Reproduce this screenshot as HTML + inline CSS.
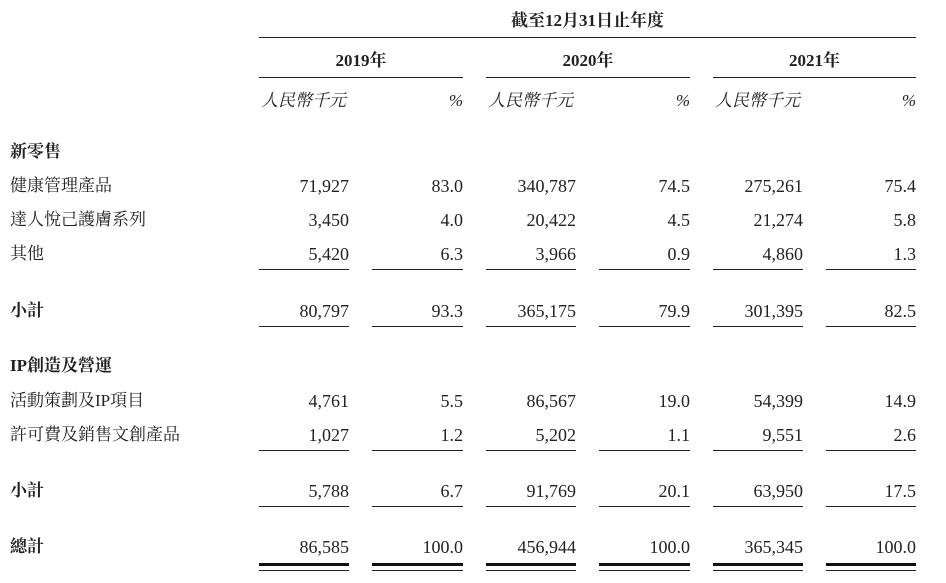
<!DOCTYPE html>
<html><head><meta charset="utf-8"><style>
body{margin:0;width:946px;height:583px;background:#fff;position:relative;overflow:hidden;color:#222;font-family:"Liberation Serif","Noto Serif CJK SC",serif;}
.t{position:absolute;height:24px;line-height:24px;font-size:18px;white-space:nowrap;}
.l{left:10px;font-size:17px;}
.b{font-weight:bold;}
.r{text-align:right;}
.i{font-style:italic;font-size:17px;}
.ln{position:absolute;height:1.3px;background:#222;}
.dt{position:absolute;height:3px;background:#111;}
.dn{position:absolute;height:1px;background:#222;}
</style></head><body>
<div class="t b" style="left:259px;width:657px;text-align:center;top:9px;font-size:17px">截至12月31日止年度</div>
<div class="ln" style="left:259px;width:657px;top:37px"></div>
<div class="t b" style="left:259px;width:204px;text-align:center;top:49px;font-size:17px">2019年</div>
<div class="t b" style="left:486px;width:204px;text-align:center;top:49px;font-size:17px">2020年</div>
<div class="t b" style="left:713px;width:203px;text-align:center;top:49px;font-size:17px">2021年</div>
<div class="ln" style="left:259px;width:204px;top:77px"></div>
<div class="ln" style="left:486px;width:204px;top:77px"></div>
<div class="ln" style="left:713px;width:203px;top:77px"></div>
<div class="t i" style="left:261px;top:89px">人民幣千元</div>
<div class="t i r" style="left:400px;width:63px;top:89px">%</div>
<div class="t i" style="left:488px;top:89px">人民幣千元</div>
<div class="t i r" style="left:627px;width:63px;top:89px">%</div>
<div class="t i" style="left:715px;top:89px">人民幣千元</div>
<div class="t i r" style="left:853px;width:63px;top:89px">%</div>

<div class="t l b" style="top:140px">新零售</div>
<div class="t l" style="top:174px">健康管理產品</div>
<div class="t l" style="top:208px">達人悅己護膚系列</div>
<div class="t l" style="top:242px">其他</div>
<div class="t l b" style="top:299px">小計</div>
<div class="t l b" style="top:354px">IP創造及營運</div>
<div class="t l" style="top:389px">活動策劃及IP項目</div>
<div class="t l" style="top:423px">許可費及銷售文創產品</div>
<div class="t l b" style="top:479px">小計</div>
<div class="t l b" style="top:535px">總計</div>

<div id="nums"></div>
<script>
var rights=[349,463,576,690,803,916];
var rows=[
[174,["71,927","83.0","340,787","74.5","275,261","75.4"]],
[208,["3,450","4.0","20,422","4.5","21,274","5.8"]],
[242,["5,420","6.3","3,966","0.9","4,860","1.3"]],
[299,["80,797","93.3","365,175","79.9","301,395","82.5"]],
[389,["4,761","5.5","86,567","19.0","54,399","14.9"]],
[423,["1,027","1.2","5,202","1.1","9,551","2.6"]],
[479,["5,788","6.7","91,769","20.1","63,950","17.5"]],
[535,["86,585","100.0","456,944","100.0","365,345","100.0"]]];
var h="";
rows.forEach(function(r){r[1].forEach(function(v,i){h+='<div class="t r" style="left:'+(rights[i]-100)+'px;width:100px;top:'+r[0]+'px">'+v+'</div>';});});
var lefts=[259,372,486,599,713,826];
[269,326,450,506].forEach(function(y){lefts.forEach(function(x,i){h+='<div class="ln" style="left:'+x+'px;width:'+(rights[i]-x)+'px;top:'+y+'px"></div>';});});
lefts.forEach(function(x,i){h+='<div class="dt" style="left:'+x+'px;width:'+(rights[i]-x)+'px;top:563px"></div><div class="dn" style="left:'+x+'px;width:'+(rights[i]-x)+'px;top:570px"></div>';});
document.getElementById("nums").innerHTML=h;
</script>
</body></html>
